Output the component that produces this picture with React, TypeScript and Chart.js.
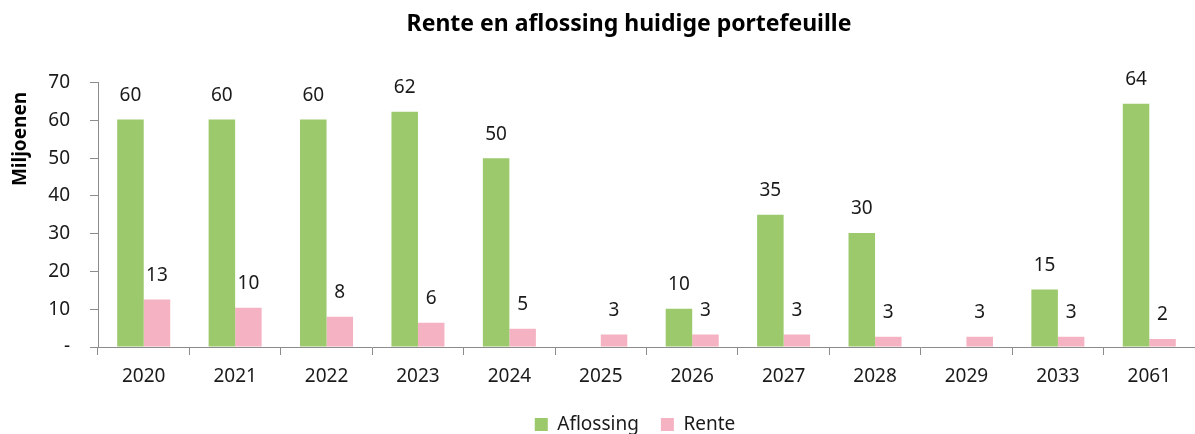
import React, { useEffect, useRef } from "react";
import { Chart, registerables } from "chart.js";

Chart.register(...registerables);

const categories = ["2020", "2021", "2022", "2023", "2024", "2025", "2026", "2027", "2028", "2029", "2033", "2061"];
const aflossing = [60.2, 60.2, 60.2, 62.3, 50.0, 0, 10.1, 35.0, 30.2, 0, 15.2, 64.4];
const rente = [12.6, 10.4, 8.0, 6.4, 4.8, 3.3, 3.3, 3.3, 2.7, 2.7, 2.7, 2.1];
const yMin = 0;
const yMax = 70;
const yStep = 10;

const FONT = "'Noto Sans', 'Liberation Sans', sans-serif";
const GREEN = "#9BC96B";
const PINK = "#F5B2C2";
const AXIS = "#8C8C8C";
const TEXT = "#1a1a1a";

const H = 434;
const AXIS_Y = 347;
const TITLE_CENTER_X = 629;
const LEGEND_CENTER_X = 635;
const LEGEND_SHIFT_Y = 10;

const placementPlugin = {
  id: "placement",
  afterLayout(chart: any) {
    const shiftX = (box: any, cx: number) => {
      if (!box) return;
      const d = cx - (box.left + box.right) / 2;
      box.left += d;
      box.right += d;
    };
    shiftX(chart.titleBlock, TITLE_CENTER_X);
    if (chart.legend) {
      shiftX(chart.legend, LEGEND_CENTER_X);
      chart.legend.top += LEGEND_SHIFT_Y;
      chart.legend.bottom += LEGEND_SHIFT_Y;
    }
  },
};

const overlayPlugin = {
  id: "overlay",
  afterDatasetsDraw(chart: any) {
    const ctx = chart.ctx;
    ctx.save();
    ctx.fillStyle = TEXT;
    ctx.font = `19px ${FONT}`;
    ctx.textAlign = "center";
    ctx.textBaseline = "middle";
    chart.data.datasets.forEach((ds: any, di: number) => {
      const meta = chart.getDatasetMeta(di);
      meta.data.forEach((bar: any, i: number) => {
        const v = ds.data[i];
        if (!v) return;
        ctx.fillText(String(Math.round(v)), bar.x, bar.y - 24);
      });
    });
    // y axis title
    ctx.translate(21, 139);
    ctx.rotate(-Math.PI / 2);
    ctx.font = `bold 19px ${FONT}`;
    ctx.fillStyle = "#000";
    ctx.fillText("Miljoenen", 0, 0);
    ctx.restore();
  },
};

export default function App() {
  const ref = useRef<HTMLCanvasElement>(null);
  useEffect(() => {
    if (!ref.current) return;
    const chart = new Chart(ref.current, {
      type: "bar",
      data: {
        labels: categories,
        datasets: [
          { label: "Aflossing", data: aflossing, backgroundColor: GREEN, categoryPercentage: 0.58, barPercentage: 1.0 },
          { label: "Rente", data: rente, backgroundColor: PINK, categoryPercentage: 0.58, barPercentage: 1.0 },
        ],
      },
      options: {
        responsive: false,
        animation: false,
        layout: { padding: { left: 0, right: 0, top: 0, bottom: 0 } },
        plugins: {
          title: {
            display: true,
            text: "Rente en aflossing huidige portefeuille",
            color: "#000",
            font: { family: FONT, size: 23, weight: "bold" },
            padding: { top: 11, bottom: 44 },
          },
          legend: {
            position: "bottom",
            labels: {
              color: TEXT,
              font: { family: FONT, size: 19 },
              boxWidth: 13,
              boxHeight: 13,
              padding: 22,
            },
          },
          tooltip: { enabled: false },
        },
        scales: {
          x: {
            afterFit: (scale: any) => {
              const lh = scale.chart.legend ? scale.chart.legend.height : 0;
              scale.height = H - AXIS_Y - lh;
            },
            grid: { display: true, drawOnChartArea: false, drawTicks: true, tickLength: 8, color: AXIS, offset: true },
            border: { color: AXIS },
            ticks: { color: TEXT, font: { family: FONT, size: 19 }, padding: 10 },
          },
          y: {
            min: yMin,
            max: yMax,
            afterFit: (scale: any) => {
              scale.width = 98;
            },
            grid: { display: true, drawOnChartArea: false, drawTicks: true, tickLength: 8, color: AXIS },
            border: { color: AXIS },
            ticks: {
              stepSize: yStep,
              color: TEXT,
              font: { family: FONT, size: 19 },
              padding: 20,
              callback: (v: any) => (Number(v) === 0 ? "-" : String(v)),
            },
          },
        },
      },
      plugins: [placementPlugin, overlayPlugin],
    } as any);
    return () => chart.destroy();
  }, []);
  return (
    <div style={{ position: "absolute", left: 0, top: 0, width: 1195, height: 434, background: "#fff" }}>
      <canvas ref={ref} width={1195} height={434} />
    </div>
  );
}
